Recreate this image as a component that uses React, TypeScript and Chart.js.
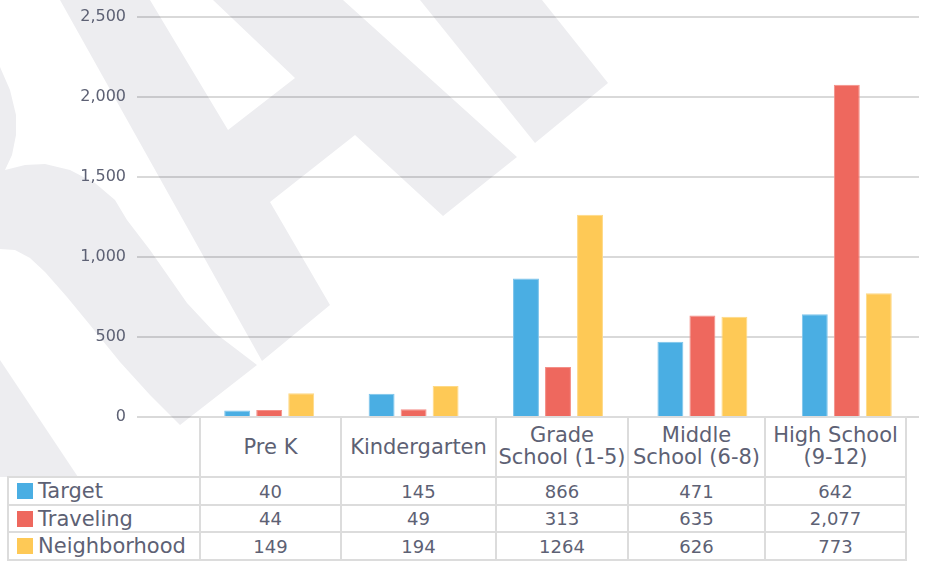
import React, { useEffect, useRef } from "react";
import { Chart, registerables } from "chart.js";

Chart.register(...registerables);

// ---------- data ----------
const categories: string[][] = [
  ["Pre K"],
  ["Kindergarten"],
  ["Grade", "School (1-5)"],
  ["Middle", "School (6-8)"],
  ["High School", "(9-12)"],
];
const seriesNames = ["Target", "Traveling", "Neighborhood"];
const targetValues = [40, 145, 866, 471, 642];
const travelingValues = [44, 49, 313, 635, 2077];
const neighborhoodValues = [149, 194, 1264, 626, 773];
const seriesThousandsSep = [true, true, false];
const yMin = 0;
const yMax = 2500;
const yStep = 500;

// ---------- style ----------
const seriesColors = ["#4aaee3", "#ee685e", "#fec956"];
const seriesBorders = ["#7cc4ec", "#f48f88", "#fed985"];
const TEXT = "#5d6174";
const GRID = "rgba(0,0,0,0.15)";
const BORDER = "#dcdcdc";
const WM = "#ededf0";
const FONT = "'DejaVu Sans', 'Noto Sans', sans-serif";

const COL_EDGES = [8, 200, 341, 496, 628, 765, 906];
const ROW_EDGES = [417, 477, 505, 532, 560];

const allSeries = [targetValues, travelingValues, neighborhoodValues];

const fmt = (v: number, sep: boolean) =>
  sep ? v.toLocaleString("en-US") : String(v);

const watermarkShapes: number[][][] = [
  [
    [60, 0], [150, 0], [228, 130], [295, 78], [213, 0], [343, 0], [517, 157],
    [443, 216], [355, 135], [270, 202], [330, 305], [262, 361],
  ],
  [[420, 0], [542, 0], [608, 83], [535, 143]],
  [
    [0, 67], [10, 90], [16, 115], [16, 135], [12, 155], [5, 170], [25, 165],
    [45, 164], [70, 170], [95, 183], [115, 200], [127, 220], [150, 250],
    [187, 303], [215, 333], [240, 352], [257, 365], [180, 425], [150, 395],
    [120, 362], [90, 325], [67, 297], [45, 272], [30, 258], [15, 250], [0, 249],
  ],
  [[0, 360], [78, 477], [0, 477]],
];

const watermarkPlugin = {
  id: "watermark",
  beforeDraw(chart: any) {
    const ctx = chart.ctx;
    ctx.save();
    ctx.fillStyle = WM;
    for (const shape of watermarkShapes) {
      ctx.beginPath();
      shape.forEach(([x, y], i) => (i === 0 ? ctx.moveTo(x, y) : ctx.lineTo(x, y)));
      ctx.closePath();
      ctx.fill();
    }
    ctx.restore();
  },
};

const gridPlugin = {
  id: "extgrid",
  beforeDatasetsDraw(chart: any) {
    const ctx = chart.ctx;
    const y = chart.scales.y;
    const area = chart.chartArea;
    ctx.save();
    ctx.strokeStyle = GRID;
    ctx.lineWidth = 2;
    for (const t of y.ticks) {
      const py = Math.round(y.getPixelForValue(t.value));
      ctx.beginPath();
      ctx.moveTo(137, py);
      ctx.lineTo(area.right, py);
      ctx.stroke();
    }
    ctx.restore();
  },
};

export default function App() {
  const ref = useRef<HTMLCanvasElement | null>(null);

  useEffect(() => {
    if (!ref.current) return;
    const chart = new Chart(ref.current, {
      type: "bar",
      data: {
        labels: categories,
        datasets: seriesNames.map((name, i) => ({
          label: name,
          data: allSeries[i],
          backgroundColor: seriesColors[i],
          borderColor: seriesBorders[i],
          borderWidth: 1,
          categoryPercentage: 0.665,
          barPercentage: 0.81,
        })),
      },
      options: {
        animation: false,
        responsive: false,
        devicePixelRatio: 1,
        layout: { padding: { top: 17, bottom: 144, left: 0, right: 6 } },
        plugins: { legend: { display: false }, tooltip: { enabled: false } },
        scales: {
          x: { display: false },
          y: {
            min: yMin,
            max: yMax,
            ticks: {
              stepSize: yStep,
              padding: 71,
              color: TEXT,
              font: { family: FONT, size: 16 },
            },
            grid: { display: false, drawTicks: false },
            border: { display: false },
            afterFit: (s: any) => {
              s.width = 197;
              s.paddingTop = 8;
              s.paddingBottom = 8;
            },
          },
        },
      },
      plugins: [watermarkPlugin, gridPlugin],
    } as any);
    return () => chart.destroy();
  }, []);

  const cell = (c: number, r: number, extra: React.CSSProperties = {}): React.CSSProperties => ({
    position: "absolute",
    left: COL_EDGES[c] - 1,
    top: ROW_EDGES[r] - 1,
    width: COL_EDGES[c + 1] - COL_EDGES[c] + 2,
    height: ROW_EDGES[r + 1] - ROW_EDGES[r] + 2,
    border: `2px solid ${BORDER}`,
    boxSizing: "border-box",
    background: "#ffffff",
    display: "flex",
    alignItems: "center",
    justifyContent: "center",
    textAlign: "center",
    color: TEXT,
    fontFamily: FONT,
    whiteSpace: "nowrap",
    ...extra,
  });

  const cells: React.ReactNode[] = [];
  categories.forEach((lines, j) => {
    cells.push(
      <div key={`h${j}`} style={cell(j + 1, 0, { fontSize: 21, lineHeight: "22px", paddingBottom: lines.length > 1 ? 3 : 0 })}>
        <div>
          {lines.map((l, k) => (
            <div key={k}>{l}</div>
          ))}
        </div>
      </div>
    );
  });
  seriesNames.forEach((name, i) => {
    cells.push(
      <div
        key={`r${i}`}
        style={cell(0, i + 1, {
          justifyContent: "flex-start",
          paddingLeft: 8,
          fontSize: 21,
        })}
      >
        <span
          style={{
            display: "inline-block",
            width: 16,
            height: 16,
            background: seriesColors[i],
            marginRight: 5,
            flex: "none",
          }}
        />
        <span>{name}</span>
      </div>
    );
    allSeries[i].forEach((v, j) => {
      cells.push(
        <div key={`c${i}-${j}`} style={cell(j + 1, i + 1, { fontSize: 18 })}>
          {fmt(v, seriesThousandsSep[i])}
        </div>
      );
    });
  });

  return (
    <div
      style={{
        position: "fixed",
        left: 0,
        top: 0,
        width: 925,
        height: 561,
        background: "#ffffff",
        overflow: "hidden",
      }}
    >
      <canvas
        ref={ref}
        width={925}
        height={561}
        style={{ position: "absolute", left: 0, top: 0, width: 925, height: 561 }}
      />
      {cells}
    </div>
  );
}
